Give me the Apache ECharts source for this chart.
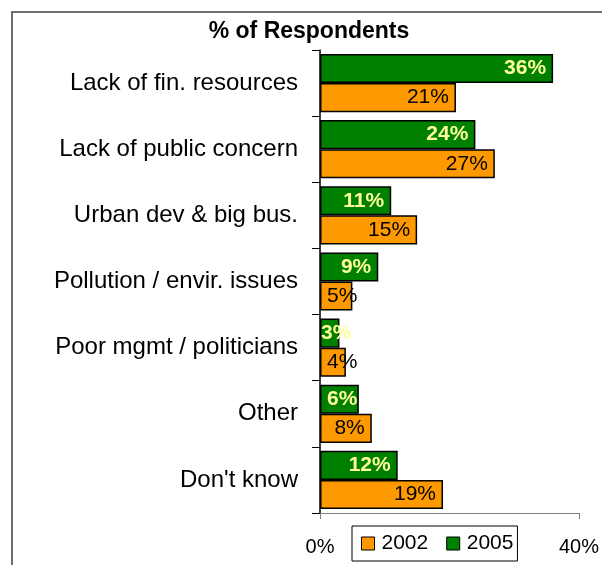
<!DOCTYPE html>
<html>
<head>
<meta charset="utf-8">
<script src="https://cdn.jsdelivr.net/npm/echarts@6/dist/echarts.min.js"></script>
<style>html,body{margin:0;padding:0;background:#fff;}#c{width:602px;height:565px;}</style>
</head>
<body>
<div id="c"></div>
<script>
const categories = ['Lack of fin. resources', 'Lack of public concern', 'Urban dev & big bus.', 'Pollution / envir. issues', 'Poor mgmt / politicians', 'Other', "Don't know"];
const values2005 = [36, 24, 11, 9, 3, 6, 12];
const values2002 = [21, 27, 15, 5, 4, 8, 19];
const seriesNames = ['2002', '2005'];
const titleText = '% of Respondents';

const FONT = '"Liberation Sans", Arial, sans-serif';
const chart = echarts.init(document.getElementById('c'));

function mkData(vals) {
  return vals.map(v => {
    const small = v <= 6;
    return {
      value: v,
      label: {
        position: small ? 'insideLeft' : 'insideRight',
        distance: small ? (v <= 3 ? 1 : 7) : 7
      }
    };
  });
}

chart.setOption({
  animation: false,
  backgroundColor: '#fff',
  title: {
    text: titleText,
    left: 309, top: 20, textAlign: 'center', padding: 0,
    textStyle: { fontFamily: FONT, fontSize: 23, fontWeight: 'bold', color: '#000' }
  },
  graphic: [{
    type: 'rect', silent: true, z: -1,
    shape: { x: 12, y: 12, width: 620, height: 580 },
    style: { fill: 'none', stroke: '#404040', lineWidth: 1.5 }
  }],
  legend: {
    data: seriesNames,
    left: 352, top: 526,
    orient: 'horizontal',
    itemWidth: 13, itemHeight: 13, itemGap: 18,
    icon: 'rect',
    padding: [7, 4, 7, 9],
    borderColor: '#000', borderWidth: 1,
    textStyle: { fontFamily: FONT, fontSize: 21, color: '#000', padding: [0, 0, 0, 2] },
    itemStyle: { borderColor: '#000', borderWidth: 1 }
  },
  grid: { left: 320, right: 21, top: 50, bottom: 52, containLabel: false },
  xAxis: {
    type: 'value', min: 0, max: 40, interval: 40,
    splitLine: { show: false },
    axisLine: { show: true, lineStyle: { color: '#808080', width: 1 } },
    axisTick: { show: true, length: 6, lineStyle: { color: '#808080' } },
    axisLabel: { formatter: '{value}%', fontFamily: FONT, fontSize: 20, color: '#000', margin: 24 }
  },
  yAxis: {
    type: 'category', data: categories, inverse: true,
    axisLine: { show: true, lineStyle: { color: '#000', width: 1.5 } },
    axisTick: { show: true, length: 8, lineStyle: { color: '#000' } },
    axisLabel: { fontFamily: FONT, fontSize: 24, color: '#000', margin: 22 }
  },
  series: [
    {
      name: '2005', type: 'bar',
      data: mkData(values2005),
      barCategoryGap: '12%', barGap: '0%',
      itemStyle: { color: '#008000', borderColor: '#000', borderWidth: 1.5 },
      label: { show: true, formatter: '{c}%', fontFamily: FONT, fontSize: 21, fontWeight: 'bold', color: '#FFFF99' }
    },
    {
      name: '2002', type: 'bar',
      data: mkData(values2002),
      barCategoryGap: '12%', barGap: '0%',
      itemStyle: { color: '#FF9900', borderColor: '#000', borderWidth: 1.5 },
      label: { show: true, formatter: '{c}%', fontFamily: FONT, fontSize: 21, color: '#000' }
    }
  ]
});
</script>
</body>
</html>
